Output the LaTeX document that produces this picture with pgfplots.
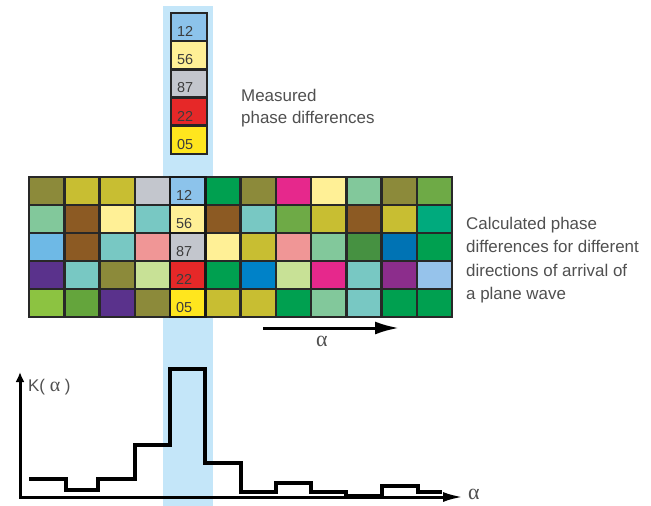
\documentclass[border=0pt]{standalone}
\usepackage{pgfplots}
\pgfplotsset{compat=1.18}
\usepackage{fontspec}
\setmainfont{Liberation Sans}
\newfontfamily\grk{Liberation Serif}
\usetikzlibrary{arrows.meta}

\definecolor{cOlive}{RGB}{140,138,58}
\definecolor{cYolive}{RGB}{200,190,50}
\definecolor{cLgray}{RGB}{195,198,205}
\definecolor{cLblue}{RGB}{140,195,235}
\definecolor{cGreen}{RGB}{0,160,80}
\definecolor{cMagenta}{RGB}{230,40,140}
\definecolor{cLyellow}{RGB}{255,240,150}
\definecolor{cLgreen}{RGB}{130,200,155}
\definecolor{cGolive}{RGB}{110,170,70}
\definecolor{cGoliveB}{RGB}{100,165,60}
\definecolor{cBrown}{RGB}{140,90,35}
\definecolor{cTeal}{RGB}{120,200,195}
\definecolor{cTealg}{RGB}{0,170,125}
\definecolor{cSky}{RGB}{110,185,230}
\definecolor{cPink}{RGB}{240,150,150}
\definecolor{cDgreen}{RGB}{70,145,65}
\definecolor{cBlue}{RGB}{0,115,180}
\definecolor{cBlueB}{RGB}{0,130,200}
\definecolor{cPurple}{RGB}{90,50,140}
\definecolor{cPale}{RGB}{200,225,150}
\definecolor{cRed}{RGB}{230,40,40}
\definecolor{cViolet}{RGB}{140,45,140}
\definecolor{cLblueB}{RGB}{150,195,235}
\definecolor{cYgreen}{RGB}{140,195,65}
\definecolor{cYellow}{RGB}{255,230,30}
\definecolor{cBand}{RGB}{196,230,249}
\definecolor{gridc}{RGB}{40,40,40}
\definecolor{txtc}{RGB}{80,80,80}
\definecolor{numc}{RGB}{60,60,60}

% grid cell: column, row, colour
\newcommand{\cell}[3]{%
  \pgfmathsetmacro\xa{29+35.25*#1}\pgfmathsetmacro\xb{\xa+35.25}%
  \pgfmathsetmacro\ya{177+28*#2}\pgfmathsetmacro\yb{\ya+28}%
  \addplot[fill=#3, draw=gridc, line width=2.5bp] coordinates {(\xa,\ya) (\xb,\ya) (\xb,\yb) (\xa,\yb)} -- cycle;}
% measured box: row, colour
\newcommand{\mcell}[2]{%
  \pgfmathsetmacro\ya{13+28.2*#1}\pgfmathsetmacro\yb{\ya+28.2}%
  \addplot[fill=#2, draw=black!85, line width=2.6bp] coordinates {(171,\ya) (207,\ya) (207,\yb) (171,\yb)} -- cycle;}
\newcommand{\ccell}[2]{%
  \pgfmathsetmacro\ya{177+28*#1}\pgfmathsetmacro\yb{\ya+28}%
  \addplot[fill=#2, draw=black!90, line width=2.7bp] coordinates {(170,\ya) (205.25,\ya) (205.25,\yb) (170,\yb)} -- cycle;}

\begin{document}
\begin{tikzpicture}
\begin{axis}[x=1bp, y=1bp, y dir=reverse, xmin=0, xmax=651, ymin=0, ymax=506,
  hide axis, clip=false]
% background and band
\addplot[fill=white, draw=none] coordinates {(0,0) (651,0) (651,506) (0,506)} -- cycle;
\addplot[fill=cBand, draw=none] coordinates {(163,6) (213,6) (213,506) (163,506)} -- cycle;
% row 0
\cell{0}{0}{cOlive}\cell{1}{0}{cYolive}\cell{2}{0}{cYolive}\cell{3}{0}{cLgray}
\cell{5}{0}{cGreen}\cell{6}{0}{cOlive}\cell{7}{0}{cMagenta}\cell{8}{0}{cLyellow}
\cell{9}{0}{cLgreen}\cell{10}{0}{cOlive}\cell{11}{0}{cGolive}
% row 1
\cell{0}{1}{cLgreen}\cell{1}{1}{cBrown}\cell{2}{1}{cLyellow}\cell{3}{1}{cTeal}
\cell{5}{1}{cBrown}\cell{6}{1}{cTeal}\cell{7}{1}{cGolive}\cell{8}{1}{cYolive}
\cell{9}{1}{cBrown}\cell{10}{1}{cYolive}\cell{11}{1}{cTealg}
% row 2
\cell{0}{2}{cSky}\cell{1}{2}{cBrown}\cell{2}{2}{cTeal}\cell{3}{2}{cPink}
\cell{5}{2}{cLyellow}\cell{6}{2}{cYolive}\cell{7}{2}{cPink}\cell{8}{2}{cLgreen}
\cell{9}{2}{cDgreen}\cell{10}{2}{cBlue}\cell{11}{2}{cGreen}
% row 3
\cell{0}{3}{cPurple}\cell{1}{3}{cTeal}\cell{2}{3}{cOlive}\cell{3}{3}{cPale}
\cell{5}{3}{cGreen}\cell{6}{3}{cBlueB}\cell{7}{3}{cPale}\cell{8}{3}{cMagenta}
\cell{9}{3}{cTeal}\cell{10}{3}{cViolet}\cell{11}{3}{cLblueB}
% row 4
\cell{0}{4}{cYgreen}\cell{1}{4}{cGoliveB}\cell{2}{4}{cPurple}\cell{3}{4}{cOlive}
\cell{5}{4}{cYolive}\cell{6}{4}{cYolive}\cell{7}{4}{cGreen}\cell{8}{4}{cLgreen}
\cell{9}{4}{cTeal}\cell{10}{4}{cGreen}\cell{11}{4}{cGreen}
% centre column of the grid
\ccell{0}{cLblue}\ccell{1}{cLyellow}\ccell{2}{cLgray}\ccell{3}{cRed}\ccell{4}{cYellow}
% measured column
\mcell{0}{cLblue}\mcell{1}{cLyellow}\mcell{2}{cLgray}\mcell{3}{cRed}\mcell{4}{cYellow}
% K(alpha) step curve
\addplot[const plot, line width=3.2bp, black, line join=miter] coordinates {
 (29,479) (66,490) (98,479) (135,445) (170,369) (205,463) (241,492) (276,483)
 (311,492) (346,496) (382,486) (418,492) (442,492)};
% axes of the lower plot
\addplot[line width=3bp, black, -{Latex[length=10bp,width=9bp]}] coordinates {(20,498) (20,372)};
\addplot[line width=3bp, black, -{Latex[length=20bp,width=10bp]}] coordinates {(19,497) (463,497)};
% direction arrow under grid
\addplot[line width=3bp, black, -{Latex[length=24bp,width=13bp]}] coordinates {(263,328) (399,328)};
% numbers in measured boxes
\foreach \t/\r in {12/0,56/1,87/2,22/3,05/4}{
  \edef\tmp{\noexpand\node[anchor=base west, text=numc, font=\noexpand\fontsize{14.5}{16}\noexpand\selectfont, inner sep=0pt]
    at (axis cs:177,{36.5+28.2*\r}) {\t};}\tmp}
\foreach \t/\r in {12/0,56/1,87/2,22/3,05/4}{
  \edef\tmp{\noexpand\node[anchor=base west, text=numc, font=\noexpand\fontsize{14.5}{16}\noexpand\selectfont, inner sep=0pt]
    at (axis cs:176,{200.5+28*\r}) {\t};}\tmp}
% text
\node[anchor=base west, text=txtc, font=\fontsize{17}{20}\selectfont, inner sep=0pt] at (axis cs:241,102) {Measured};
\node[anchor=base west, text=txtc, font=\fontsize{17}{20}\selectfont, inner sep=0pt] at (axis cs:241,124) {phase differences};
\node[anchor=base west, text=txtc, font=\fontsize{17}{20}\selectfont, inner sep=0pt] at (axis cs:466,230) {Calculated phase};
\node[anchor=base west, text=txtc, font=\fontsize{17}{20}\selectfont, inner sep=0pt] at (axis cs:466,253) {differences for different};
\node[anchor=base west, text=txtc, font=\fontsize{17}{20}\selectfont, inner sep=0pt] at (axis cs:466,276) {directions of arrival of};
\node[anchor=base west, text=txtc, font=\fontsize{17}{20}\selectfont, inner sep=0pt] at (axis cs:466,299) {a plane wave};
\node[anchor=base west, text=txtc, font=\fontsize{22}{24}\selectfont, inner sep=0pt] at (axis cs:316,346) {\grk α};
\node[anchor=base west, text=txtc, font=\fontsize{22}{24}\selectfont, inner sep=0pt] at (axis cs:468,499) {\grk α};
\node[anchor=base west, text=txtc, font=\fontsize{17}{20}\selectfont, inner sep=0pt] at (axis cs:28,391) {K( {\grk\fontsize{20}{20}\selectfont α} )};
\end{axis}
\end{tikzpicture}
\end{document}
